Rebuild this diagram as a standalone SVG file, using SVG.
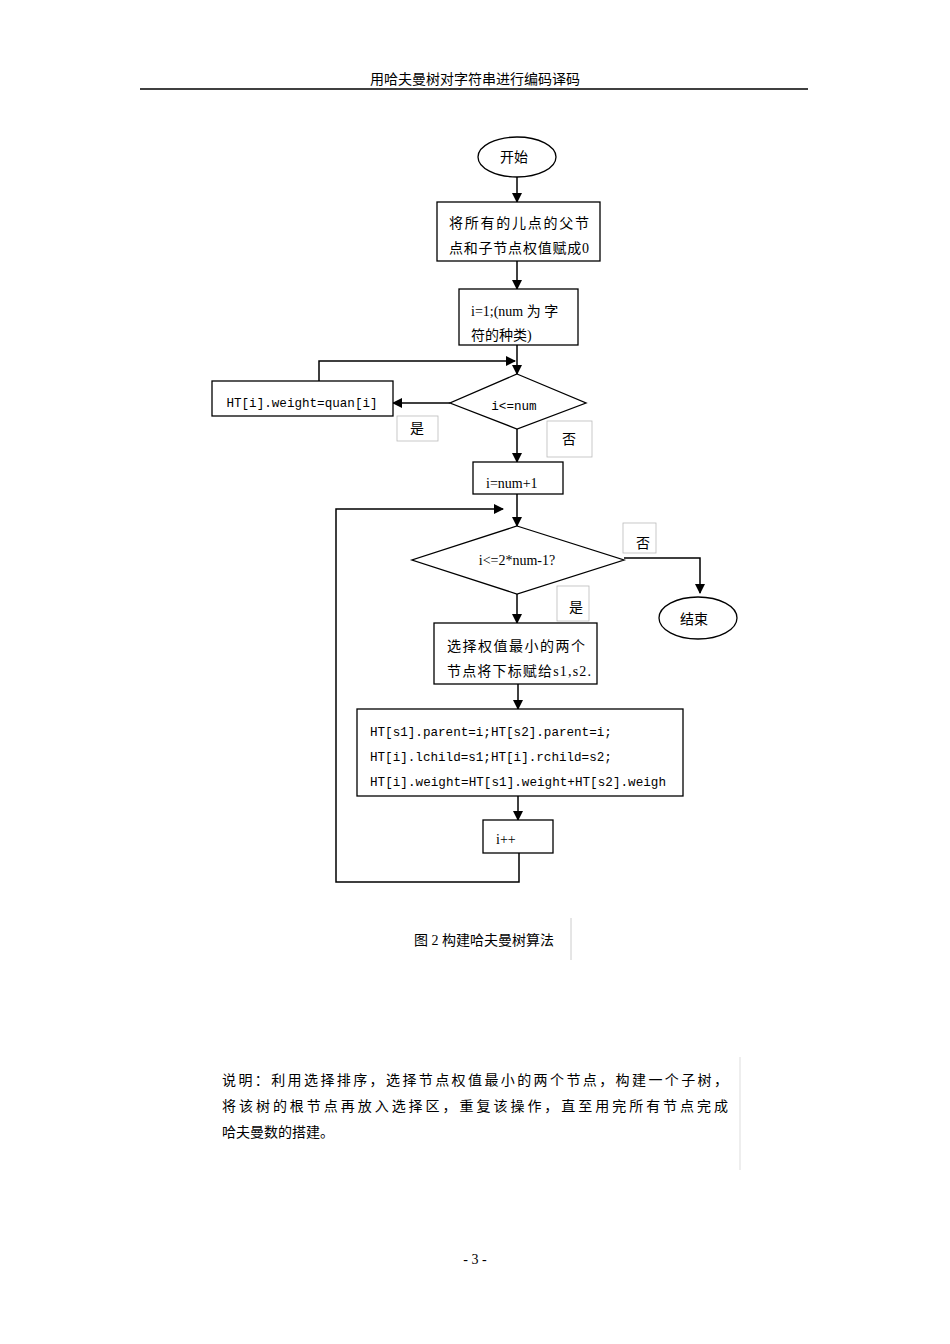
<svg xmlns="http://www.w3.org/2000/svg" width="950" height="1344" viewBox="0 0 950 1344">
<defs>
<marker id="ah" markerWidth="10" markerHeight="10" refX="9" refY="5" orient="auto" markerUnits="userSpaceOnUse"><path d="M0,0 L10,5 L0,10 z" fill="#000"/></marker>
<style>
.n{fill:#fff;stroke:#000;stroke-width:1.3}
.t{font-family:"Liberation Serif","Noto Sans CJK SC",serif;font-size:14px;fill:#000}
.m{font-family:"Liberation Mono","Noto Sans CJK SC",monospace;font-size:12.6px;fill:#000}
.c{stroke:#000;stroke-width:1.5;fill:none}
.lb{fill:#fff;stroke:#bbb;stroke-width:0.8}
</style>
</defs>
<rect width="950" height="1344" fill="#fff"/>
<text x="475" y="84" text-anchor="middle" class="t" font-size="13">用哈夫曼树对字符串进行编码译码</text>
<line x1="140" y1="89" x2="808" y2="89" stroke="#000" stroke-width="1.3"/>
<g id="connectors">
<line class="c" x1="517" y1="177" x2="517" y2="202" marker-end="url(#ah)"/>
<line class="c" x1="517" y1="261" x2="517" y2="289" marker-end="url(#ah)"/>
<line class="c" x1="517" y1="345" x2="517" y2="374" marker-end="url(#ah)"/>
<polyline class="c" points="319,381 319,361 515,361" marker-end="url(#ah)"/>
<line class="c" x1="450" y1="403" x2="393" y2="403" marker-end="url(#ah)"/>
<line class="c" x1="517" y1="429" x2="517" y2="462" marker-end="url(#ah)"/>
<line class="c" x1="517" y1="494" x2="517" y2="526" marker-end="url(#ah)"/>
<polyline class="c" points="519,853 519,882 336,882 336,509 503,509" marker-end="url(#ah)"/>
<polyline class="c" points="624,558 700,558 700,593" marker-end="url(#ah)"/>
<line class="c" x1="517" y1="594" x2="517" y2="623" marker-end="url(#ah)"/>
<line class="c" x1="518" y1="684" x2="518" y2="709" marker-end="url(#ah)"/>
<line class="c" x1="518" y1="796" x2="518" y2="820" marker-end="url(#ah)"/>
</g>
<g id="start"><ellipse class="n" cx="517" cy="157" rx="39" ry="20"/><text x="514" y="162" text-anchor="middle" class="t">开始</text></g>
<g id="init"><rect class="n" x="437" y="202" width="163" height="59" stroke-width="2"/><text x="449" y="228" class="t" textLength="140" lengthAdjust="spacing">将所有的儿点的父节</text><text x="449" y="253" class="t" textLength="140" lengthAdjust="spacing">点和子节点权值赋成0</text></g>
<g id="i1"><rect class="n" x="459" y="289" width="119" height="56"/><text x="471" y="316" class="t">i=1;(num  为 字</text><text x="471" y="340" class="t">符的种类)</text></g>
<g id="d1"><polygon class="n" points="517,374 586,403 517,429 450,403"/><text x="514" y="410" text-anchor="middle" class="m">i&lt;=num</text></g>
<g id="ht"><rect class="n" x="212" y="381" width="181" height="35"/><text x="302" y="407" text-anchor="middle" class="m">HT[i].weight=quan[i]</text></g>
<g id="yes1"><rect class="lb" x="397" y="416" width="41" height="25"/><text x="417" y="433" text-anchor="middle" class="t">是</text></g>
<g id="no1"><rect class="lb" x="547" y="421" width="45" height="36"/><text x="569" y="444" text-anchor="middle" class="t" font-size="15">否</text></g>
<g id="inum"><rect class="n" x="473" y="462" width="90" height="32"/><text x="486" y="488" class="t" font-size="15">i=num+1</text></g>
<g id="d2"><polygon class="n" points="517,526 624,560 517,594 412,560"/><text x="517" y="565" text-anchor="middle" class="t" font-size="15">i&lt;=2*num-1?</text></g>
<g id="no2"><rect class="lb" x="623" y="523" width="33" height="30"/><text x="643" y="548" text-anchor="middle" class="t" font-size="13">否</text></g>
<g id="end"><ellipse class="n" cx="698" cy="618" rx="39" ry="21"/><text x="694" y="624" text-anchor="middle" class="t">结束</text></g>
<g id="yes2"><rect class="lb" x="557" y="586" width="32" height="35"/><text x="576" y="612" text-anchor="middle" class="t" font-size="13">是</text></g>
<g id="sel"><rect class="n" x="434" y="623" width="163" height="61" stroke-width="2"/><text x="447" y="651" class="t" textLength="138" lengthAdjust="spacing">选择权值最小的两个</text><text x="447" y="676" class="t" textLength="144" lengthAdjust="spacing">节点将下标赋给s1,s2.</text></g>
<g id="assign"><rect class="n" x="357" y="709" width="326" height="87"/><text x="370" y="736" class="m">HT[s1].parent=i;HT[s2].parent=i;</text><text x="370" y="761" class="m">HT[i].lchild=s1;HT[i].rchild=s2;</text><text x="370" y="786" class="m" textLength="296" lengthAdjust="spacing">HT[i].weight=HT[s1].weight+HT[s2].weigh</text></g>
<g id="inc"><rect class="n" x="483" y="820" width="70" height="33"/><text x="496" y="844" class="t" font-size="15">i++</text></g>
<text x="484" y="945" text-anchor="middle" class="t">图 2  构建哈夫曼树算法</text>
<line x1="571" y1="918" x2="571" y2="960" stroke="#ccc" stroke-width="1"/>
<text x="222" y="1085" class="t" font-size="15.5" textLength="506" lengthAdjust="spacing">说明：利用选择排序，选择节点权值最小的两个节点，构建一个子树，</text>
<text x="222" y="1111" class="t" font-size="15.5" textLength="506" lengthAdjust="spacing">将该树的根节点再放入选择区，重复该操作，直至用完所有节点完成</text>
<text x="222" y="1137" class="t" font-size="15.5">哈夫曼数的搭建。</text>
<line x1="740" y1="1057" x2="740" y2="1170" stroke="#ddd" stroke-width="1"/>
<text x="475" y="1264" text-anchor="middle" class="t" font-size="13">- 3 -</text>
</svg>
